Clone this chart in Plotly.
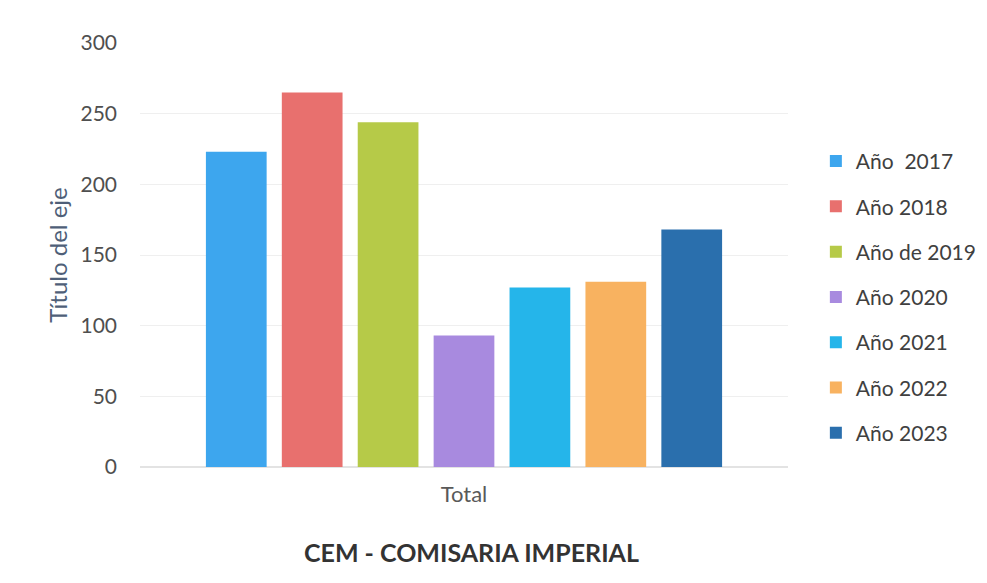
import plotly.graph_objects as go

categories = ["Total"]
series_names = ["Año  2017", "Año 2018", "Año de 2019", "Año 2020", "Año 2021", "Año 2022", "Año 2023"]
series_values = [223, 265, 244, 93, 127, 131, 168]
series_colors = ["#3DA6EE", "#E8706E", "#B6CA48", "#A88ADF", "#25B5EA", "#F8B260", "#2A6FAD"]
y_ticks = [0, 50, 100, 150, 200, 250, 300]

font_family = "Lato, 'Open Sans', sans-serif"

fig = go.Figure()
for name, val, col in zip(series_names, series_values, series_colors):
    fig.add_trace(go.Bar(
        x=categories, y=[val], name=name, marker_color=col,
        marker_line_width=0, legendgroup=name,
    ))

fig.update_layout(
    width=979, height=576,
    paper_bgcolor="white", plot_bgcolor="white",
    margin=dict(l=132, r=199, t=35, b=117, autoexpand=False),
    barmode="group", bargap=0.18, bargroupgap=0.2,
    font=dict(family=font_family, color="#595959", size=16),
    showlegend=True,
    legend=dict(
        x=1.043, y=0.40, xanchor="left", yanchor="middle",
        font=dict(size=21, color="#404040"),
        tracegroupgap=15, itemwidth=30,
    ),
    xaxis=dict(
        showgrid=False, showline=False, ticks="", ticklabelstandoff=12,
        tickfont=dict(size=22, color="#595959"),
    ),
    yaxis=dict(
        range=[0, 300], tickvals=y_ticks, showgrid=True,
        gridcolor="#EFEFEF", gridwidth=1, zeroline=True, zerolinecolor="#E3E3E3",
        showline=False, ticks="", ticklabelstandoff=22,
        tickfont=dict(size=21, color="#4F4F4F"),
        title=dict(text="Título del eje", font=dict(size=24, color="#4F5F78"), standoff=6),
    ),
    annotations=[dict(
        text="<b>CEM - COMISARIA IMPERIAL</b>", xref="paper", yref="paper",
        x=0.511, y=-0.2, xanchor="center", yanchor="middle", showarrow=False,
        font=dict(size=25, color="#333333", family=font_family),
    )],
)

fig.write_html("out.html")
